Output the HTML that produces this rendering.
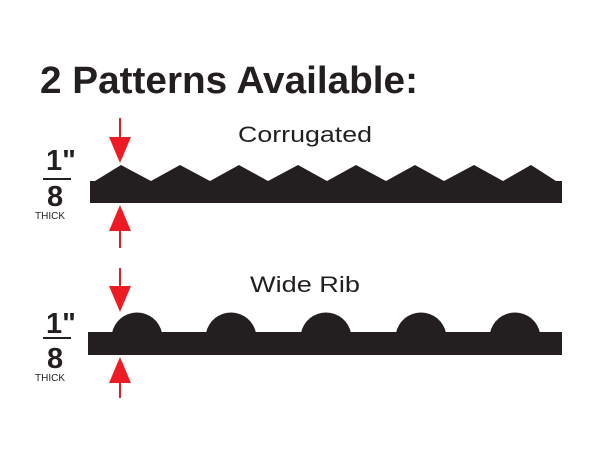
<!DOCTYPE html>
<html><head><meta charset="utf-8"><style>body{margin:0;background:#fff}svg{display:block}</style></head>
<body>
<svg width="600" height="460" viewBox="0 0 600 460" xmlns="http://www.w3.org/2000/svg" font-family="Liberation Sans, Arial, sans-serif">
<rect width="600" height="460" fill="#fff"/>
<text x="40" y="93" font-size="38" font-weight="bold" fill="#231f20" textLength="378" lengthAdjust="spacingAndGlyphs">2 Patterns Available:</text>
<text x="238" y="142" font-size="22" fill="#231f20" textLength="134" lengthAdjust="spacingAndGlyphs">Corrugated</text>
<text x="250" y="292" font-size="22" fill="#231f20" textLength="110" lengthAdjust="spacingAndGlyphs">Wide Rib</text>

<path fill="#231f20" d="M90,181 L95,181 L121,165 L151,181 L180,165 L210,181 L239,165 L268,181 L298,165 L327,181 L356,165 L386,181 L415,165 L444,181 L474,165 L503,181 L531,165 L556,181 L562,181 L562,203 L90,203 Z"/>

<g fill="#231f20">
<rect x="88" y="332" width="474" height="23"/>
<path d="M112,333 A25.5,25.5 0 0 1 162,333 Z"/>
<path d="M206,333 A25.5,25.5 0 0 1 256,333 Z"/>
<path d="M301,333 A25.5,25.5 0 0 1 351,333 Z"/>
<path d="M396,333 A25.5,25.5 0 0 1 446,333 Z"/>
<path d="M490,333 A25.5,25.5 0 0 1 540,333 Z"/>
</g>

<g stroke="#ed1c24" stroke-width="2">
<line x1="120" y1="118" x2="120" y2="145"/>
<line x1="120" y1="222" x2="120" y2="248"/>
<line x1="120" y1="268" x2="120" y2="294"/>
<line x1="120" y1="372" x2="120" y2="398"/>
</g>
<g fill="#ed1c24">
<path d="M109,137 L131,137 L120,163 Z"/>
<path d="M109,231 L131,231 L120,205 Z"/>
<path d="M109,286 L131,286 L120,312 Z"/>
<path d="M109,383 L131,383 L120,357 Z"/>
</g>

<g fill="#231f20">
<text x="46" y="170" font-size="29" font-weight="bold">1"</text>
<rect x="43" y="178" width="28" height="2"/>
<text x="47" y="206" font-size="29" font-weight="bold">8</text>
<text x="35" y="219" font-size="10">THICK</text>
<text x="46" y="333" font-size="29" font-weight="bold">1"</text>
<rect x="43" y="337" width="28" height="2"/>
<text x="47" y="368" font-size="29" font-weight="bold">8</text>
<text x="35" y="381" font-size="10">THICK</text>
</g>
</svg>
</body></html>
